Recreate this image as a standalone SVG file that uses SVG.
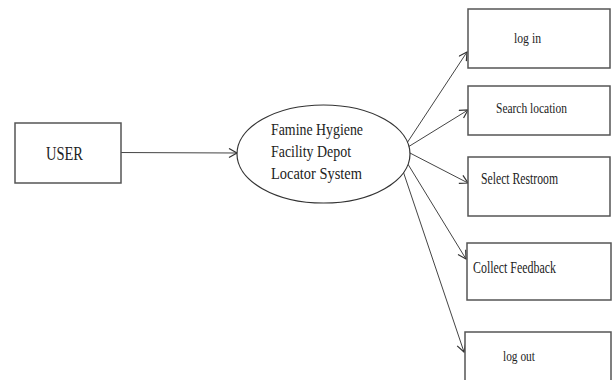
<svg xmlns="http://www.w3.org/2000/svg" width="613" height="380" viewBox="0 0 613 380">
<style>
.box{fill:#fff;stroke:#555;stroke-width:1.5}
.lbl{font-family:"Liberation Serif","Times New Roman",serif;fill:#222}
.con{stroke:#444;stroke-width:1;fill:none}
</style>
<defs>
<marker id="arr" markerUnits="userSpaceOnUse" markerWidth="12" markerHeight="12" refX="9" refY="5" orient="auto">
<path d="M1,0.5 L9,5 L1,9.5" fill="none" stroke="#333" stroke-width="1.2"/>
</marker>
</defs>
<rect width="613" height="380" fill="#fff"/>
<g id="connectors">
<line class="con" x1="116" y1="152.5" x2="237" y2="153" marker-end="url(#arr)"/>
<line class="con" x1="407" y1="143" x2="467" y2="52" marker-end="url(#arr)"/>
<line class="con" x1="408" y1="147" x2="468" y2="110" marker-end="url(#arr)"/>
<line class="con" x1="408" y1="152" x2="468" y2="183" marker-end="url(#arr)"/>
<line class="con" x1="406" y1="161" x2="466" y2="259" marker-end="url(#arr)"/>
<line class="con" x1="402" y1="168" x2="464" y2="352" marker-end="url(#arr)"/>
</g>
<g id="user">
<rect class="box" x="15" y="123" width="106" height="60"/>
<text class="lbl" x="46" y="160" font-size="19" textLength="37" lengthAdjust="spacingAndGlyphs">USER</text>
</g>
<g id="system">
<ellipse cx="323.5" cy="154" rx="86.5" ry="49" fill="#fff" stroke="#333" stroke-width="1.2"/>
<text class="lbl" font-size="17">
<tspan x="271" y="135" textLength="92" lengthAdjust="spacingAndGlyphs">Famine Hygiene</tspan>
<tspan x="271" y="157" textLength="80" lengthAdjust="spacingAndGlyphs">Facility Depot</tspan>
<tspan x="271" y="179" textLength="91" lengthAdjust="spacingAndGlyphs">Locator System</tspan>
</text>
</g>
<g id="login">
<rect class="box" x="468" y="9" width="142" height="59"/>
<text class="lbl" x="514" y="43" font-size="15" textLength="27" lengthAdjust="spacingAndGlyphs">log in</text>
</g>
<g id="search">
<rect class="box" x="468" y="86" width="142" height="49"/>
<text class="lbl" x="496" y="113" font-size="15" textLength="71" lengthAdjust="spacingAndGlyphs">Search location</text>
</g>
<g id="select">
<rect class="box" x="468" y="157" width="142" height="59"/>
<text class="lbl" x="481" y="184" font-size="16" textLength="77" lengthAdjust="spacingAndGlyphs">Select Restroom</text>
</g>
<g id="feedback">
<rect class="box" x="467" y="243" width="144" height="57"/>
<text class="lbl" x="473" y="272.5" font-size="16" textLength="83" lengthAdjust="spacingAndGlyphs">Collect Feedback</text>
</g>
<g id="logout">
<rect class="box" x="465" y="332" width="146" height="60"/>
<text class="lbl" x="503" y="361" font-size="15" textLength="32" lengthAdjust="spacingAndGlyphs">log out</text>
</g>
</svg>
